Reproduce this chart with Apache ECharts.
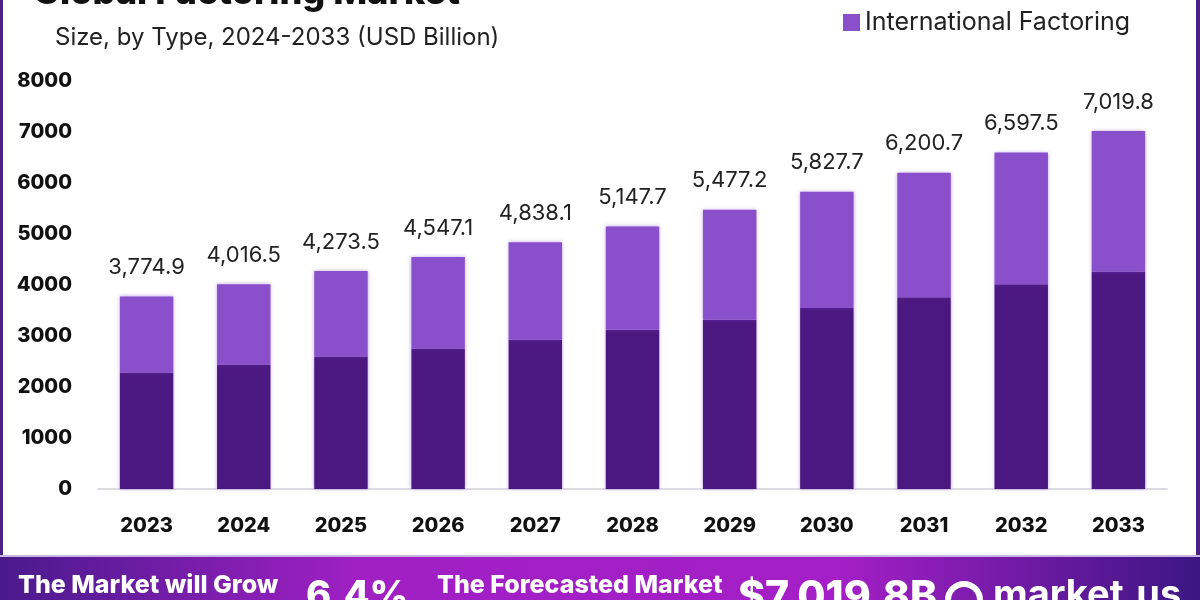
<!DOCTYPE html>
<html>
<head>
<meta charset="utf-8">
<script src="https://cdn.jsdelivr.net/npm/echarts@6/dist/echarts.min.js"></script>
<style>
    html, body { margin: 0; padding: 0; background: #fff; }
    #chart { width: 1200px; height: 600px; }
</style>
</head>
<body>
<div id="chart"></div>
<script>
    // market size by year, USD billion
    const years = ['2023', '2024', '2025', '2026', '2027', '2028', '2029', '2030', '2031', '2032', '2033'];
    const totals = [3774.9, 4016.5, 4273.5, 4547.1, 4838.1, 5147.7, 5477.2, 5827.7, 6200.7, 6597.5, 7019.8];
    const domestic = [2285, 2442, 2599, 2756, 2927, 3124, 3320, 3550, 3758, 4014, 4263];
    const yTicks = [0, 1000, 2000, 3000, 4000, 5000, 6000, 7000, 8000];

    const international = totals.map((t, i) => +(t - domestic[i]).toFixed(1));

    function fmt (v) {
        return v.toLocaleString('en-US', { minimumFractionDigits: 1, maximumFractionDigits: 1 });
    }

    const font = 'Inter, "Noto Sans", sans-serif';
    const chart = echarts.init(document.getElementById('chart'), null, { renderer: 'canvas' });

    chart.setOption({
        animation: false,
        backgroundColor: '#ffffff',
        title: [
            {
                text: 'Global Factoring Market',
                left: 28,
                top: -30,
                textStyle: { fontFamily: font, fontSize: 36, fontWeight: 800, color: '#111' }
            },
            {
                text: 'Size, by Type, 2024-2033 (USD Billion)',
                left: 50,
                top: 21,
                textStyle: { fontFamily: font, fontSize: 24, fontWeight: 'normal', color: '#222' }
            }
        ],
        legend: {
            data: ['International Factoring'],
            left: 838,
            top: 5,
            itemWidth: 17,
            itemHeight: 17,
            itemGap: 8,
            icon: 'rect',
            textStyle: { fontFamily: font, fontSize: 25, color: '#222' }
        },
        grid: {
            left: 98,
            right: 33,
            top: 81,
            bottom: 111
        },
        xAxis: {
            type: 'category',
            data: years,
            axisLine: { lineStyle: { color: '#d4d0da', width: 1.5 } },
            axisTick: { show: false },
            axisLabel: {
                margin: 27,
                fontFamily: font,
                fontSize: 20,
                fontWeight: 800,
                color: '#111'
            }
        },
        yAxis: {
            type: 'value',
            min: yTicks[0],
            max: yTicks[yTicks.length - 1],
            interval: 1000,
            axisLine: { show: false },
            axisTick: { show: false },
            splitLine: { show: false },
            axisLabel: {
                margin: 26,
                fontFamily: font,
                fontSize: 20,
                fontWeight: 800,
                color: '#111',
                formatter: v => String(v)
            }
        },
        series: [
            {
                name: 'Domestic Factoring',
                type: 'bar',
                stack: 'total',
                barWidth: '55%',
                data: domestic,
                itemStyle: {
                    color: '#4b1780',
                    shadowBlur: 4,
                    shadowColor: 'rgba(120, 60, 200, 0.45)'
                }
            },
            {
                name: 'International Factoring',
                type: 'bar',
                stack: 'total',
                barWidth: '55%',
                data: international,
                itemStyle: {
                    color: '#8a4fcb',
                    shadowBlur: 4,
                    shadowColor: 'rgba(120, 60, 200, 0.45)'
                },
                label: {
                    show: true,
                    position: 'top',
                    distance: 18,
                    fontFamily: font,
                    fontSize: 22,
                    color: '#222',
                    formatter: p => fmt(totals[p.dataIndex])
                }
            }
        ],
        graphic: [
            // frame
            { type: 'rect', shape: { x: 0, y: 0, width: 3, height: 557 }, style: { fill: '#4b1f86' } },
            { type: 'rect', shape: { x: 1196, y: 0, width: 4, height: 557 }, style: { fill: '#4b1f86' } },
            { type: 'rect', shape: { x: 0, y: 555, width: 1200, height: 2 }, style: { fill: '#c9b5e3' } },
            // footer banner
            {
                type: 'rect',
                shape: { x: 0, y: 557, width: 1200, height: 43 },
                style: {
                    fill: new echarts.graphic.LinearGradient(0, 0, 1, 0, [
                        { offset: 0, color: '#4a1a8c' },
                        { offset: 0.3, color: '#a020c4' },
                        { offset: 0.7, color: '#a41fc6' },
                        { offset: 1, color: '#3c1683' }
                    ])
                }
            },
            { type: 'text', left: 18, top: 573, style: { text: 'The Market will Grow', fontFamily: font, fontSize: 25, fontWeight: 800, fill: '#fff' } },
            { type: 'text', left: 306, top: 578, style: { text: '6.4%', fontFamily: font, fontSize: 38, fontWeight: 800, fill: '#fff' } },
            { type: 'text', left: 437, top: 573, style: { text: 'The Forecasted Market', fontFamily: font, fontSize: 25, fontWeight: 800, fill: '#fff' } },
            { type: 'text', left: 738, top: 577, style: { text: '$7,019.8B', fontFamily: font, fontSize: 41, fontWeight: 800, fill: '#fff' } },
            { type: 'circle', shape: { cx: 964, cy: 600, r: 16 }, style: { fill: 'none', stroke: '#fff', lineWidth: 6 } },
            { type: 'text', left: 993, top: 577, style: { text: 'market.us', fontFamily: font, fontSize: 38, fontWeight: 700, fill: '#fff' } }
        ]
    });
</script>
</body>
</html>
